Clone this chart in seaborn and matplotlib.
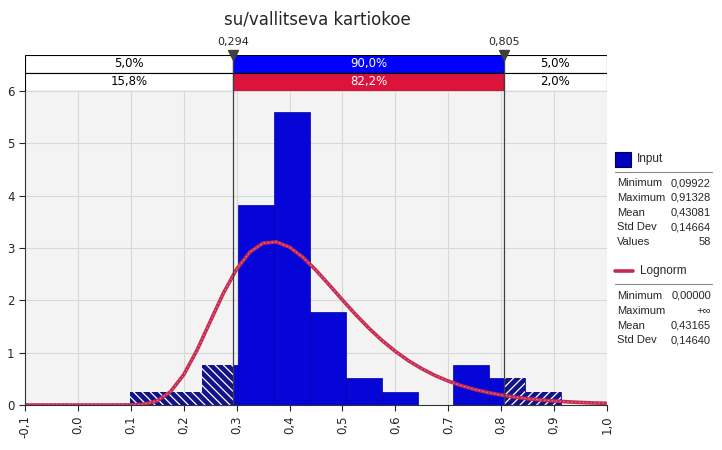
import numpy as np
import pandas as pd
import seaborn as sns
import matplotlib.pyplot as plt
from matplotlib.patches import Rectangle
from matplotlib.lines import Line2D
from matplotlib.ticker import FuncFormatter, MultipleLocator

# histogram of the input (58 values, 12 bins between min and max)
bin_edges = [0.09922, 0.16706, 0.23490, 0.30274, 0.37058, 0.43842, 0.50626,
             0.57410, 0.64194, 0.70978, 0.77762, 0.84546, 0.91328]
bin_counts = [1, 1, 3, 15, 22, 7, 2, 1, 0, 3, 2, 1]

# lognorm fit curve
curve_x = [-0.1, 0.0, 0.05, 0.075, 0.1, 0.125, 0.15, 0.175, 0.2, 0.225, 0.25, 0.275,
           0.3, 0.325, 0.35, 0.375, 0.4, 0.425, 0.45, 0.475, 0.5, 0.525, 0.55,
           0.575, 0.6, 0.625, 0.65, 0.675, 0.7, 0.725, 0.75, 0.775, 0.8, 0.825,
           0.85, 0.875, 0.9, 0.925, 0.95, 0.975, 1.0]
curve_y = [0.0, 0.0, 0.0, 0.0, 0.0013, 0.0153, 0.080, 0.254, 0.579, 1.045, 1.594, 2.137,
           2.597, 2.922, 3.093, 3.116, 3.016, 2.825, 2.575, 2.295, 2.007, 1.728, 1.467,
           1.232, 1.025, 0.845, 0.693, 0.564, 0.457, 0.369, 0.297, 0.238, 0.191, 0.152,
           0.121, 0.097, 0.077, 0.061, 0.049, 0.039, 0.031]

# delimiters and the percentages in the band above the chart
left_mark = 0.294
right_mark = 0.805
input_pcts = ['5,0%', '90,0%', '5,0%']
fit_pcts = ['15,8%', '82,2%', '2,0%']

input_stats = [('Minimum', '0,09922'), ('Maximum', '0,91328'), ('Mean', '0,43081'),
               ('Std Dev', '0,14664'), ('Values', '58')]
fit_stats = [('Minimum', '0,00000'), ('Maximum', '+\u221e'), ('Mean', '0,43165'),
             ('Std Dev', '0,14640')]

title = 'su/vallitseva kartiokoe'

sns.set_style('white')
plt.rcParams['font.family'] = ['DejaVu Sans']
legend_font = ['Liberation Sans', 'DejaVu Sans']

xmin, xmax = -0.1, 1.0
centers = [(a + b) / 2 for a, b in zip(bin_edges[:-1], bin_edges[1:])]
hist_df = pd.DataFrame({'x': centers, 'n': bin_counts})

fig = plt.figure(figsize=(7.22, 4.5), dpi=100)
ax = fig.add_axes([25 / 722, 1 - 405 / 450, 582 / 722, 314 / 450])
ax.set_facecolor('#F3F3F3')

# solid bars
sns.histplot(data=hist_df, x='x', weights='n', bins=bin_edges, stat='density',
             color='#0505D8', alpha=1, edgecolor='#00009C', linewidth=0.5, ax=ax)

# hatched copies clipped to the tails
plt.rcParams['hatch.linewidth'] = 0.9
for hatch, lo, hi in [('\\\\\\\\', xmin, left_mark), ('////', right_mark, xmax)]:
    n0 = len(ax.patches)
    sns.histplot(data=hist_df, x='x', weights='n', bins=bin_edges, stat='density',
                 color='#12128A', alpha=1, edgecolor='white', linewidth=0,
                 hatch=hatch, ax=ax)
    clip = Rectangle((lo, 0), hi - lo, 10, transform=ax.transData)
    for p in ax.patches[n0:]:
        p.set_clip_path(clip)

# fitted curve
curve_df = pd.DataFrame({'x': curve_x, 'y': curve_y})
sns.lineplot(data=curve_df, x='x', y='y', color='#C42A50', linewidth=2.6, ax=ax)
sns.lineplot(data=curve_df, x='x', y='y', color='#E0708C', linewidth=0.8,
             linestyle=(0, (1.5, 2)), ax=ax)

ax.set_xlim(xmin, xmax)
ax.set_ylim(0, 6)
ax.xaxis.set_major_locator(MultipleLocator(0.1))
ax.yaxis.set_major_locator(MultipleLocator(1))
ax.xaxis.set_major_formatter(FuncFormatter(lambda v, p: f'{v:.1f}'.replace('.', ',').replace('-0,0', '0,0')))
ax.yaxis.set_major_formatter(FuncFormatter(lambda v, p: f'{v:.0f}'))
ax.tick_params(axis='x', labelrotation=90, labelsize=8.5, length=4, width=0.8, direction='out', bottom=True)
ax.tick_params(axis='y', labelsize=8.5, length=4, width=0.8, direction='out', left=True)
ax.grid(True, color='#D8D8D8', linewidth=0.8)
ax.set_axisbelow(True)
ax.set_xlabel('')
ax.set_ylabel('')
for s in ['top', 'right']:
    ax.spines[s].set_visible(False)
for s in ['left', 'bottom']:
    ax.spines[s].set_color('#333333')
    ax.spines[s].set_linewidth(0.8)

for m in (left_mark, right_mark):
    ax.axvline(m, color='#404040', linewidth=0.9, zorder=5)

# band with percentages
band = fig.add_axes([25 / 722, 1 - 91 / 450, 582 / 722, 36 / 450])
band.set_xlim(xmin, xmax)
band.set_ylim(0, 2)
lefts = [xmin, left_mark, right_mark]
widths = [left_mark - xmin, right_mark - left_mark, xmax - right_mark]
band.barh([1.5] * 3, widths, left=lefts, height=1, color=['white', '#0000FF', 'white'],
          edgecolor='black', linewidth=0.8)
band.barh([0.5] * 3, widths, left=lefts, height=1, color=['white', '#DC143C', 'white'],
          edgecolor='black', linewidth=0.8)
for i in range(3):
    cx = lefts[i] + widths[i] / 2
    tc = 'white' if i == 1 else 'black'
    band.text(cx, 1.5, input_pcts[i], ha='center', va='center', fontsize=8.5, color=tc)
    band.text(cx, 0.5, fit_pcts[i], ha='center', va='center', fontsize=8.5, color=tc)
for m in (left_mark, right_mark):
    band.axvline(m, color='#404040', linewidth=0.9)
    band.plot([m], [2.0], marker='v', markersize=7, color='#404040', clip_on=False)
    band.text(m, 2.45, f'{m:.3f}'.replace('.', ','), ha='center', va='bottom', fontsize=8)
band.axis('off')

fig.text(317 / 722, 1 - 20 / 450, title, ha='center', va='center', fontsize=12)

# legend panel on the right
def ypos(py):
    return 1 - py / 450

fig.patches.append(Rectangle((615 / 722, ypos(167)), 16 / 722, 15 / 450,
                             transform=fig.transFigure, facecolor='#0000C0',
                             edgecolor='#000060', linewidth=0.8))
fig.text(637 / 722, ypos(159), 'Input', ha='left', va='center', fontsize=8.5, family=legend_font)
fig.lines.append(Line2D([615 / 722, 712 / 722], [ypos(172)] * 2, transform=fig.transFigure,
                        color='#888888', linewidth=0.8))
for i, (k, v) in enumerate(input_stats):
    y = ypos(183 + i * 14.8)
    fig.text(617 / 722, y, k, ha='left', va='center', fontsize=8, family=legend_font)
    fig.text(711 / 722, y, v, ha='right', va='center', fontsize=8, family=legend_font)

fig.lines.append(Line2D([615 / 722, 633 / 722], [ypos(271)] * 2, transform=fig.transFigure,
                        color='#C42A50', linewidth=2.6))
fig.text(640 / 722, ypos(271), 'Lognorm', ha='left', va='center', fontsize=8.5, family=legend_font)
fig.lines.append(Line2D([615 / 722, 712 / 722], [ypos(284)] * 2, transform=fig.transFigure,
                        color='#888888', linewidth=0.8))
for i, (k, v) in enumerate(fit_stats):
    y = ypos(296 + i * 14.8)
    fig.text(617 / 722, y, k, ha='left', va='center', fontsize=8, family=legend_font)
    fig.text(711 / 722, y, v, ha='right', va='center', fontsize=8, family=legend_font)

fig.savefig('out.png', dpi=100)
